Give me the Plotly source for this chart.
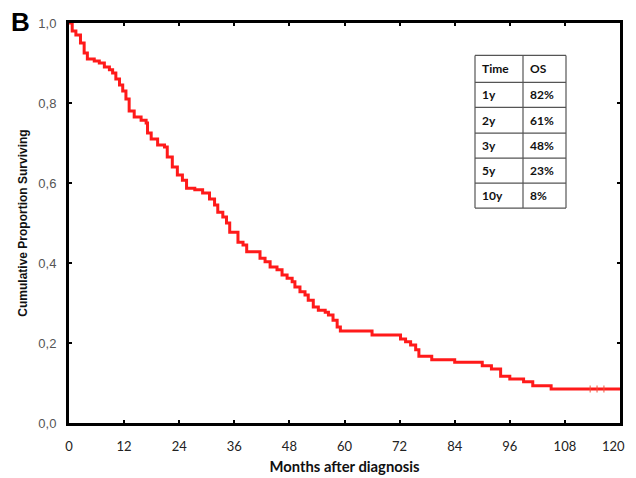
import plotly.graph_objects as go

# Kaplan-Meier overall survival (step function)
months = [0, 0.7, 1.5, 2.5, 3.3, 4, 5.5, 6.6, 7.7, 8.8, 9.5, 10.2, 11, 11.7, 12.4, 13.1,
          14.2, 15.7, 16.8, 17.1, 17.9, 19.3, 20.8, 21.4, 22.5, 23.6, 24.7, 25.6, 27.4,
          29.1, 30.6, 31.7, 32.4, 33.5, 34.3, 35, 36.8, 37.9, 38.7, 41.6, 42.7, 43.8,
          45.3, 46.4, 47.5, 48.6, 49.2, 50.3, 51.4, 52.1, 53.2, 54.3, 55.8, 56.5, 57.5,
          58.4, 59.1, 66, 72.2, 73.3, 74.4, 75.5, 76.2, 79, 84, 90, 92, 94, 96, 99, 101,
          105, 120]
survival = [1.0, 0.98, 0.97, 0.95, 0.925, 0.91, 0.905, 0.90, 0.89, 0.883, 0.875, 0.86,
            0.845, 0.83, 0.81, 0.78, 0.765, 0.757, 0.75, 0.725, 0.71, 0.695, 0.69, 0.665,
            0.64, 0.62, 0.607, 0.587, 0.583, 0.575, 0.56, 0.545, 0.527, 0.515, 0.50, 0.477,
            0.452, 0.445, 0.428, 0.412, 0.403, 0.39, 0.383, 0.37, 0.362, 0.353, 0.34, 0.328,
            0.32, 0.307, 0.29, 0.282, 0.277, 0.27, 0.257, 0.24, 0.23, 0.22, 0.21, 0.203,
            0.195, 0.183, 0.167, 0.158, 0.152, 0.143, 0.135, 0.117, 0.11, 0.103, 0.093,
            0.085, 0.085]

censor_months = [113.5, 115, 116.5]
censor_surv = [0.085, 0.085, 0.085]

x_ticks = [0, 12, 24, 36, 48, 60, 72, 84, 96, 108, 120]
x_tick_labels = ["0", "12", "24", "36", "48", "60", "72", "84", "96", "108", "120"]
y_ticks = [0.0, 0.2, 0.4, 0.6, 0.8, 1.0]

table_header = ["Time", "OS"]
table_time = ["1y", "2y", "3y", "5y", "10y"]
table_os = ["82%", "61%", "48%", "23%", "8%"]

# ---- figure geometry (window pixels) ----
OFF = 8                      # default page body margin
W, H = 636 - OFF, 478 - OFF  # figure size so it ends at the window edge
X0, X1 = 69, 620             # plot area left/right in window pixels
Y0, Y1 = 22.5, 423.5         # plot area top/bottom in window pixels


def px(xp):
    return (xp - X0) / (X1 - X0)


def py(yp):
    return (Y1 - yp) / (Y1 - Y0)


fig = go.Figure()
fig.add_trace(go.Scatter(x=months, y=survival, mode="lines", line_shape="hv",
                         line=dict(color="#ff1a1a", width=3), showlegend=False,
                         hoverinfo="skip"))
fig.add_trace(go.Scatter(x=censor_months, y=censor_surv, mode="markers",
                         marker=dict(symbol="line-ns-open", size=5,
                                     line=dict(color="#ff1a1a", width=1)),
                         showlegend=False, hoverinfo="skip"))

shapes = []
annotations = []

# table grid
t_left, t_mid, t_right = 475, 523, 566
rows = [55, 82, 107, 133, 158, 183, 208]
gc = "#555555"
for r in rows:
    shapes.append(dict(type="line", xref="paper", yref="paper",
                       x0=px(t_left), x1=px(t_right), y0=py(r), y1=py(r),
                       line=dict(color=gc, width=1.2)))
for c in (t_left, t_mid, t_right):
    shapes.append(dict(type="line", xref="paper", yref="paper",
                       x0=px(c), x1=px(c), y0=py(rows[0]), y1=py(rows[-1]),
                       line=dict(color=gc, width=1.2)))

col1 = [table_header[0]] + table_time
col2 = [table_header[1]] + table_os
tf = dict(family="Lato, Open Sans, sans-serif", size=12, color="#111111")
for i in range(len(col1)):
    yc = (rows[i] + rows[i + 1]) / 2
    annotations.append(dict(xref="paper", yref="paper", x=px(t_left + 5), y=py(yc),
                            text="<b>%s</b>" % col1[i], showarrow=False,
                            xanchor="left", yanchor="middle", font=tf))
    annotations.append(dict(xref="paper", yref="paper", x=px(t_mid + 5), y=py(yc),
                            text="<b>%s</b>" % col2[i], showarrow=False,
                            xanchor="left", yanchor="middle", font=tf))

# panel letter
annotations.append(dict(xref="paper", yref="paper", x=px(10), y=py(21),
                        text="<b>B</b>", showarrow=False, xanchor="left",
                        yanchor="middle", borderpad=0,
                        font=dict(family="Liberation Sans, Arial", size=26,
                                  color="#000000")))

# last x label sits slightly left of its tick so it stays inside the page
tick_text = list(x_tick_labels)
tick_text[-1] = tick_text[-1] + "\u00a0" * 4

fig.update_layout(
    width=W, height=H,
    margin=dict(l=X0 - OFF, r=W - (X1 - OFF), t=Y0 - OFF, b=H - (Y1 - OFF), pad=0,
                autoexpand=False),
    paper_bgcolor="white", plot_bgcolor="white",
    separators=",.",
    shapes=shapes, annotations=annotations,
    showlegend=False,
)
fig.update_xaxes(range=[0, 120], tickvals=x_ticks, ticktext=tick_text,
                 ticklabeloverflow="allow",
                 showgrid=False, zeroline=False, automargin=False,
                 showline=True, linecolor="black", linewidth=3, mirror="ticks",
                 ticks="inside", ticklen=3, tickwidth=2, tickcolor="black",
                 tickfont=dict(family="Lato, Open Sans, sans-serif", size=13,
                               color="#222222"),
                 ticklabelstandoff=9,
                 title=dict(text="<b>Months after diagnosis</b>", standoff=10,
                            font=dict(family="Lato, Open Sans, sans-serif", size=14.8,
                                      color="#111111")))
fig.update_yaxes(range=[0, 1], tickvals=y_ticks, tickformat=".1f", showgrid=False,
                 automargin=False,
                 zeroline=False, showline=True, linecolor="black", linewidth=3,
                 mirror="ticks", ticks="inside", ticklen=3, tickwidth=2,
                 tickcolor="black",
                 tickfont=dict(family="Liberation Sans, Arial", size=13, color="#555555"),
                 ticklabelstandoff=7,
                 title=dict(text="<b>Cumulative Proportion Surviving</b>", standoff=9,
                            font=dict(family="Liberation Sans, Arial", size=12,
                                      color="#111111")))

fig.write_html("out.html")
